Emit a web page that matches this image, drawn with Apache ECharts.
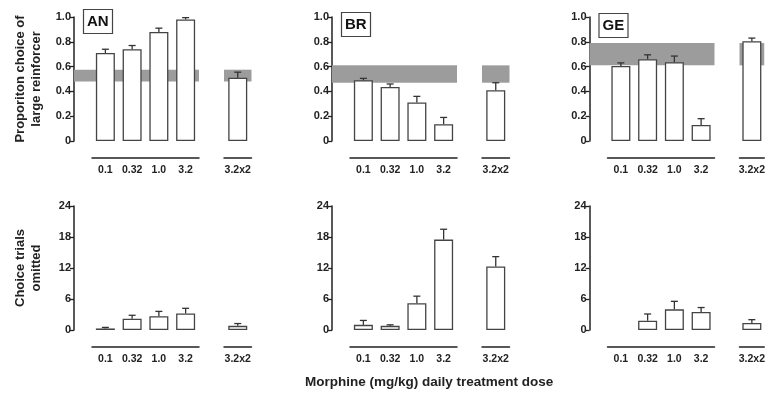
<!DOCTYPE html>
<html>
<head>
<meta charset="utf-8">
<script src="https://cdn.jsdelivr.net/npm/echarts@6/dist/echarts.min.js"></script>
<style>
  html, body { margin: 0; padding: 0; background: #fff; }
  #chart { width: 768px; height: 398px; }
</style>
</head>
<body>
<div id="chart"></div>
<script>
// doses (left group) and the repeated dose (right group)
const doses = ['0.1', '0.32', '1.0', '3.2'];
const repeatDose = ['3.2x2'];
const subjects = ['AN', 'BR', 'GE'];

// proportion choice of large reinforcer, last value = 3.2x2
const choiceAN = [0.71, 0.74, 0.88, 0.98, 0.51];
const choiceErrAN = [0.03, 0.03, 0.03, 0.015, 0.045];
const choiceBR = [0.49, 0.435, 0.31, 0.135, 0.41];
const choiceErrBR = [0.015, 0.025, 0.05, 0.055, 0.06];
const choiceGE = [0.605, 0.66, 0.635, 0.13, 0.805];
const choiceErrGE = [0.025, 0.035, 0.05, 0.05, 0.025];

// baseline band (grey) per subject
const bandAN = [0.48, 0.575];
const bandBR = [0.47, 0.61];
const bandGE = [0.61, 0.79];

// choice trials omitted
const omitAN = [0.3, 2.2, 2.65, 3.2, 0.8];
const omitErrAN = [0.2, 0.65, 0.95, 1.0, 0.45];
const omitBR = [1.0, 0.8, 5.2, 17.5, 12.3];
const omitErrBR = [0.85, 0.2, 1.35, 2.0, 1.9];
const omitGE = [null, 1.8, 4.0, 3.5, 1.35];
const omitErrGE = [null, 1.3, 1.55, 0.85, 0.65];

const panels = [
  { name: 'AN', choice: choiceAN, choiceErr: choiceErrAN, band: bandAN, omit: omitAN, omitErr: omitErrAN, titleTop: 9 },
  { name: 'BR', choice: choiceBR, choiceErr: choiceErrBR, band: bandBR, omit: omitBR, omitErr: omitErrBR, titleTop: 12 },
  { name: 'GE', choice: choiceGE, choiceErr: choiceErrGE, band: bandGE, omit: omitGE, omitErr: omitErrGE, titleTop: 13 }
];

const panelLeft = [74, 332, 589.5];
const rows = [
  { top: 17, height: 124, max: 1, interval: 0.2, name: 'Proporiton choice of\nlarge reinforcer', key: 'choice' },
  { top: 206, height: 124, max: 24, interval: 6, name: 'Choice trials\nomitted', key: 'omit' }
];

const ink = '#222';
const font = '"Liberation Sans", Arial, sans-serif';
const narrow = '"Liberation Sans Narrow", "Liberation Sans", Arial, sans-serif';

const grid = [], xAxis = [], yAxis = [], series = [], title = [];

function errRender(params, api) {
  const m = api.value(1), e = api.value(2);
  const p0 = api.coord([api.value(0), m]);
  const p1 = api.coord([api.value(0), m + e]);
  const hw = 3.5;
  return {
    type: 'group',
    children: [
      { type: 'line', shape: { x1: p0[0], y1: p0[1], x2: p1[0], y2: p1[1] }, style: { stroke: '#333', lineWidth: 1.3 } },
      { type: 'line', shape: { x1: p1[0] - hw, y1: p1[1], x2: p1[0] + hw, y2: p1[1] }, style: { stroke: '#333', lineWidth: 1.3 } }
    ]
  };
}

function catAxis(gi, data) {
  return {
    type: 'category', gridIndex: gi, data: data, offset: 17,
    axisLine: { onZero: false, lineStyle: { color: ink, width: 1.5 } },
    axisTick: { alignWithLabel: true, length: 4, lineStyle: { color: ink, width: 1.3 } },
    axisLabel: { color: ink, fontFamily: narrow, fontWeight: 'bold', fontSize: 10.5, margin: 7 }
  };
}

function hiddenY(gi, row) {
  return { type: 'value', gridIndex: gi, min: 0, max: row.max, show: false };
}

rows.forEach((row, r) => {
  panels.forEach((pan, p) => {
    const base = panelLeft[p];
    const vals = pan[row.key];
    const errs = pan[row.key + 'Err'];

    // frame grid: visible y axis + grey band
    let gi = grid.length;
    grid.push({ left: base, width: 125, top: row.top, height: row.height });
    xAxis.push({ type: 'value', gridIndex: gi, min: 0, max: 1, show: false });
    yAxis.push({
      type: 'value', gridIndex: gi, min: 0, max: row.max, interval: row.interval,
      name: p === 0 ? row.name : '', nameLocation: 'middle', nameGap: 30, nameRotate: 90,
      nameTextStyle: { color: ink, fontFamily: font, fontWeight: 'bold', fontSize: 13, lineHeight: 15.5 },
      axisLine: { show: true, lineStyle: { color: ink, width: 1.5 } },
      axisTick: { show: true, length: 4, lineStyle: { color: ink, width: 1.3 } },
      axisLabel: {
        color: ink, fontFamily: font, fontWeight: 'bold', fontSize: 11, margin: 3,
        formatter: v => (row.max === 1 && v !== 0 ? v.toFixed(1) : String(v))
      },
      splitLine: { show: false }
    });
    if (r === 0) {
      series.push({
        type: 'line', xAxisIndex: gi, yAxisIndex: gi, data: [], z: 1, silent: true,
        markArea: { silent: true, itemStyle: { color: '#9c9c9c' }, data: [[{ yAxis: pan.band[0] }, { yAxis: pan.band[1] }]] }
      });
    }

    // left group: 4 doses
    gi = grid.length;
    grid.push({ left: base + 18, width: 107, top: row.top, height: row.height });
    xAxis.push(catAxis(gi, doses));
    yAxis.push(hiddenY(gi, row));
    series.push({
      type: 'bar', xAxisIndex: gi, yAxisIndex: gi, z: 3, barWidth: 19, silent: true,
      itemStyle: { color: '#fff', borderColor: '#444', borderWidth: 1.3 },
      data: vals.slice(0, 4)
    });
    series.push({
      type: 'custom', xAxisIndex: gi, yAxisIndex: gi, z: 4, silent: true, renderItem: errRender,
      encode: { x: 0, y: 1 },
      data: vals.slice(0, 4).map((v, i) => [i, v, errs[i]]).filter(d => d[1] != null)
    });

    // right group: repeated dose
    gi = grid.length;
    grid.push({ left: base + 150, width: 27.5, top: row.top, height: row.height });
    xAxis.push(catAxis(gi, repeatDose));
    yAxis.push(hiddenY(gi, row));
    if (r === 0) {
      series.push({
        type: 'line', xAxisIndex: gi, yAxisIndex: gi, data: [], z: 1, silent: true,
        markArea: { silent: true, itemStyle: { color: '#9c9c9c' }, data: [[{ yAxis: pan.band[0] }, { yAxis: pan.band[1] }]] }
      });
    }
    series.push({
      type: 'bar', xAxisIndex: gi, yAxisIndex: gi, z: 3, barWidth: 19, silent: true,
      itemStyle: { color: '#fff', borderColor: '#444', borderWidth: 1.3 },
      data: [vals[4]]
    });
    series.push({
      type: 'custom', xAxisIndex: gi, yAxisIndex: gi, z: 4, silent: true, renderItem: errRender,
      encode: { x: 0, y: 1 },
      data: [[0, vals[4], errs[4]]]
    });

    if (r === 0) {
      title.push({
        text: pan.name, left: base + 9, top: pan.titleTop,
        padding: [5, 4], borderColor: '#444', borderWidth: 1.2,
        textStyle: { color: '#111', fontFamily: font, fontWeight: 'bold', fontSize: 15, lineHeight: 15 }
      });
    }
  });
});

const chart = echarts.init(document.getElementById('chart'), null, { renderer: 'canvas' });
chart.setOption({
  animation: false,
  backgroundColor: '#fff',
  title: title,
  grid: grid,
  xAxis: xAxis,
  yAxis: yAxis,
  series: series,
  graphic: [{
    type: 'text', left: 305, top: 375,
    style: { text: 'Morphine (mg/kg) daily treatment dose', fill: ink, font: 'bold 13.5px ' + font }
  }]
});
</script>
</body>
</html>
